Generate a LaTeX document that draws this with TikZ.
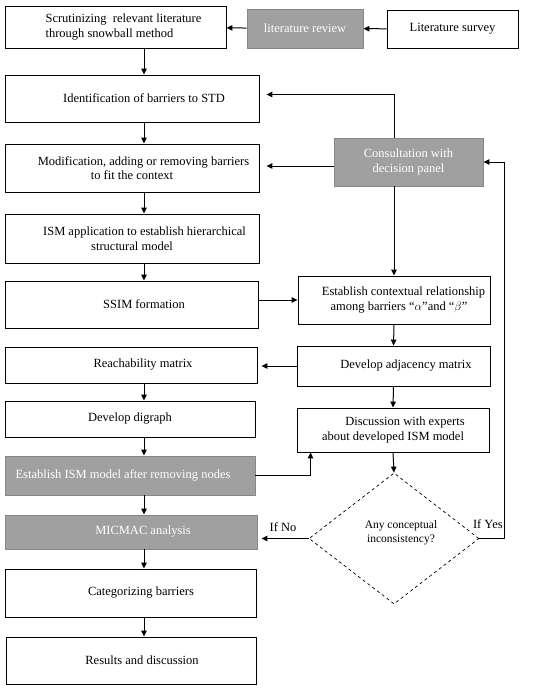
\documentclass[tikz,border=0pt]{standalone}
\usepackage{fontspec}
\setmainfont{Liberation Serif}
\usepackage{tikz}
\usetikzlibrary{arrows.meta, shapes.geometric, positioning, calc}
\definecolor{boxgray}{RGB}{160,160,160}
\definecolor{edgegray}{RGB}{135,135,135}

\begin{document}
\begin{tikzpicture}[x=1pt, y=-1pt, font=\fontsize{12.5}{14.5}\selectfont,
    >={Triangle[length=6pt,width=5.5pt]},
    box/.style={draw, line width=0.9pt, align=center, inner sep=2pt},
    graybox/.style={box, draw=edgegray, fill=boxgray, text=white},
    decision/.style={diamond, draw, dashed, line width=0.7pt, align=center, inner sep=0pt,
        minimum width=170pt, minimum height=131pt, font=\fontsize{11.5}{14}\selectfont},
    flow/.style={->, line width=1pt}]

            \useasboundingbox (0,0) rectangle (550,690);

            % Cột trái
            \node[box, minimum width=221pt, minimum height=42pt, align=left] (scrut) at (115.5,27)
                {\hspace*{16pt}Scrutinizing\ \ relevant literature\\\hspace*{16pt}through snowball method};
            \node[box, minimum width=254pt, minimum height=47pt] (ident) at (132,98.5)
                {\hspace*{24pt}Identification of barriers to STD};
            \node[box, minimum width=254pt, minimum height=48pt] (modif) at (132,168)
                {\hspace*{23pt}Modification, adding or removing barriers\\to fit the context};
            \node[box, minimum width=254pt, minimum height=49pt] (ismapp) at (132,238.5)
                {\hspace*{25pt}ISM application to establish hierarchical\\structural model};
            \node[box, minimum width=253pt, minimum height=47pt] (ssim) at (131.5,304.5)
                {\hspace*{25pt}SSIM formation};
            \node[box, minimum width=252pt, minimum height=36pt] (reach) at (131,365)
                {\hspace*{24pt}Reachability matrix};
            \node[box, minimum width=250pt, minimum height=36pt] (digraph) at (130,419)
                {Develop digraph};
            \node[graybox, minimum width=250pt, minimum height=39pt] (estism) at (130,475.5)
                {Establish ISM model after removing nodes\hspace*{14pt}};
            \node[graybox, minimum width=252pt, minimum height=34pt] (micmac) at (131,532)
                {\hspace*{24pt}MICMAC analysis};
            \node[box, minimum width=251pt, minimum height=48pt] (categ) at (130.5,593)
                {\hspace*{21pt}Categorizing barriers};
            \node[box, minimum width=250pt, minimum height=47pt] (results) at (131,660.5)
                {\hspace*{22pt}Results and discussion};

            % Hàng trên
            \node[graybox, minimum width=116pt, minimum height=39pt] (litrev) at (305,28.5)
                {literature review};
            \node[box, minimum width=131pt, minimum height=38pt] (litsurv) at (452.5,29)
                {Literature survey};

            % Cột phải
            \node[graybox, minimum width=149pt, minimum height=48pt] (consult) at (408.5,162)
                {Consultation with\\decision panel};
            \node[box, minimum width=192pt, minimum height=48pt] (context) at (394,300)
                {\hspace*{19pt}Establish contextual relationship\\\hspace*{10pt}among barriers “$\alpha$”and “$\beta$”};
            \node[box, minimum width=193pt, minimum height=40pt] (adj) at (393.5,366)
                {\hspace*{25pt}Develop adjacency matrix};
            \node[box, minimum width=192pt, minimum height=44pt] (discuss) at (393,430)
                {\hspace*{24pt}Discussion with experts\\about developed ISM model};
            \node[decision, text depth=14pt] (incons) at (394,538.5)
                {\hspace*{14pt}Any conceptual\\\hspace*{14pt}inconsistency?};

            % Trục mũi tên cột trái
            \coordinate (lc) at (144,0);

            % Mũi tên hàng trên
            \draw[flow] (litsurv) -- (litrev);
            \draw[flow] (litrev) -- (scrut);

            % Mũi tên cột trái
            \draw[flow] (scrut.south -| lc) -- (ident.north -| lc);
            \draw[flow] (ident.south -| lc) -- (modif.north -| lc);
            \draw[flow] (modif.south -| lc) -- (ismapp.north -| lc);
            \draw[flow] (ismapp.south -| lc) -- (ssim.north -| lc);
            \draw[flow] (reach.south -| lc) -- (digraph.north -| lc);
            \draw[flow] (digraph.south -| lc) -- (estism.north -| lc);
            \draw[flow] (estism.south -| lc) -- (micmac.north -| lc);
            \draw[flow] (micmac.south -| lc) -- (categ.north -| lc);
            \draw[flow] (categ.south -| lc) -- (results.north -| lc);

            % Mũi tên từ hội đồng
            \draw[flow, shorten >=7pt] (consult.north -| context.north) |- ([yshift=4pt]ident.east);
            \draw[flow, shorten >=7pt] ([yshift=-4pt]consult.west) -- ([yshift=-4pt]consult.west -| modif.east);
            \draw[flow] (consult.south -| context.north) -- (context.north);

            % Mũi tên cột phải
            \draw[flow] (ssim.east |- context.west) -- (context.west);
            \draw[flow] (context.south) -- (adj.north);
            \draw[flow, shorten >=4pt] (adj.west) -- (adj.west -| reach.east);
            \draw[flow] (adj.south) -- (discuss.north);
            \draw[flow] (estism.east) -| ([xshift=14pt]discuss.south west);
            \draw[flow] (discuss.south) -- (incons.north);

            % Nhánh quyết định
            \draw[flow, shorten >=4pt] (incons.west) -- node[above=3pt] {If No} (incons.west -| micmac.east);
            \draw[flow] (incons.east) -- node[above=6pt, xshift=-4pt] {If Yes} ++(25,0) |- (consult.east);

            \end{tikzpicture}
\end{document}
